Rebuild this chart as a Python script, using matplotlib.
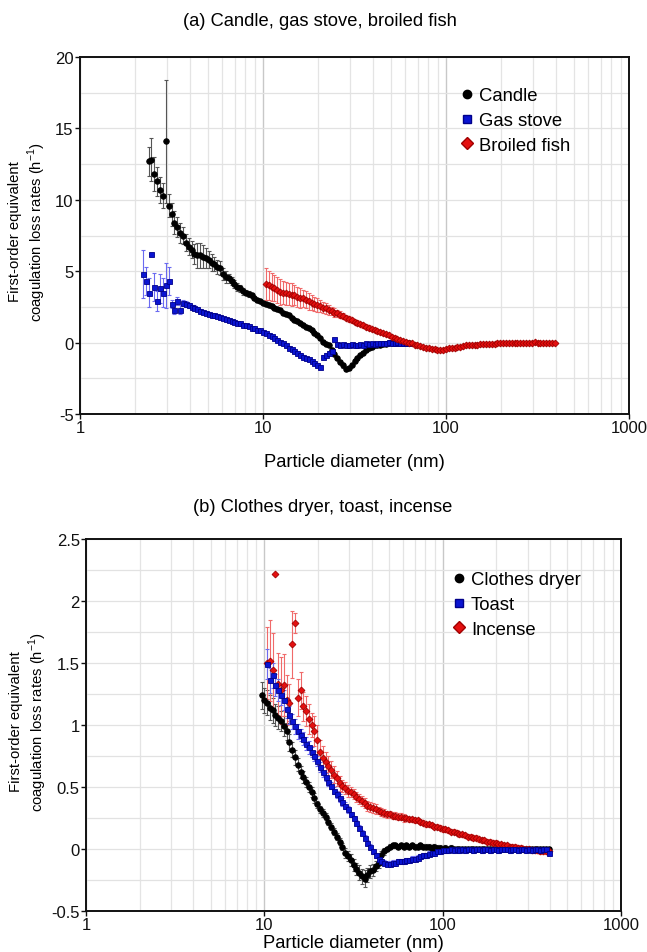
import numpy as np
import matplotlib
matplotlib.use("Agg")
import matplotlib.pyplot as plt
from matplotlib.ticker import FixedLocator, FixedFormatter, NullFormatter, MultipleLocator
from matplotlib.lines import Line2D

plt.rcParams['font.family'] = ['Liberation Sans', 'DejaVu Sans']
plt.rcParams['axes.unicode_minus'] = False

# Instrument channels: 64 size channels per decade, channel j -> d = 10**(j/64) nm
CH_PER_DECADE = 64

# ---------------- Panel (a) ----------------
candle_start = 24
candle = [12.7, 12.8, 11.8, 11.3, 10.7, 10.3, 14.1, 9.6, 9.0, 8.4,
          8.1, 7.7, 7.5, 7.0, 6.7, 6.5, 6.2, 6.1, 6.1, 6.0,
          5.9, 5.8, 5.6, 5.5, 5.3, 5.2, 4.8, 4.6, 4.5, 4.3,
          4.1, 3.9, 3.8, 3.6, 3.5, 3.4, 3.3, 3.1, 3.0, 2.9,
          2.8, 2.7, 2.6, 2.55, 2.45, 2.35, 2.25, 2.1, 2.0, 1.9,
          1.75, 1.6, 1.5, 1.35, 1.25, 1.1, 1.0, 0.85, 0.7, 0.5,
          0.3, 0.05, -0.1, -0.2, -0.5, -0.8, -1.1, -1.35, -1.6, -1.85,
          -1.8, -1.55, -1.3, -1.1, -0.9, -0.7, -0.55, -0.4, -0.3, -0.2,
          -0.2, -0.15, -0.1, -0.1, -0.05, -0.05, 0.0, 0.0, -0.05, 0.0,
          0.0, 0.0]
candle_err = [1.0, 1.5, 1.2, 1.0, 0.9, 0.9, 4.3, 0.8, 0.8, 0.8,
              0.7, 0.7, 0.6, 0.6, 0.6, 0.6, 0.7, 0.9, 0.9, 0.8,
              0.7, 0.6, 0.6, 0.5, 0.5, 0.5, 0.4, 0.4, 0.3, 0.3,
              0.3, 0.3, 0.25, 0.25, 0.2, 0.2, 0.15, 0.15, 0.15, 0.15,
              0.12, 0.12, 0.12, 0.12, 0.12, 0.12, 0.12, 0.12, 0.12, 0.12,
              0.1, 0.1, 0.1, 0.1, 0.1, 0.1, 0.1, 0.1, 0.1, 0.1,
              0.1, 0.1, 0.1, 0.1, 0.12, 0.12, 0.12, 0.15, 0.15, 0.15,
              0.15, 0.12, 0.12, 0.1, 0.1, 0.1, 0.1, 0.08, 0.08, 0.08,
              0.06, 0.06, 0.06, 0.06, 0.06, 0.06, 0.06, 0.06, 0.06, 0.06,
              0.06, 0.06]

gas_start = 22
gas = [4.8, 4.3, 3.5, 6.2, 3.9, 2.9, 3.8, 3.5, 4.0, 4.3,
       2.7, 2.3, 2.9, 2.3, 2.75, 2.7, 2.6, 2.5, 2.45, 2.35,
       2.2, 2.15, 2.1, 2.0, 1.95, 1.9, 1.85, 1.8, 1.7, 1.65,
       1.6, 1.5, 1.45, 1.4, 1.35, 1.25, 1.2, 1.15, 1.05, 1.0,
       0.9, 0.85, 0.75, 0.65, 0.55, 0.45, 0.35, 0.2, 0.05, -0.05,
       -0.2, -0.35, -0.45, -0.6, -0.7, -0.85, -1.0, -1.1, -1.15, -1.3,
       -1.4, -1.55, -1.7, -1.0, -0.85, -0.7, -0.6, 0.25, -0.1, -0.15,
       -0.1, -0.2, -0.15, -0.1, -0.2, -0.15, -0.1, -0.15, -0.05, -0.1,
       0.0, -0.1, -0.05, 0.0, -0.05, 0.0, 0.05, 0.0, 0.0, 0.05,
       0.0, 0.0, 0.0, 0.0]
gas_err = [1.7, 1.0, 1.0, 0.0, 1.0, 0.7, 1.0, 1.0, 1.6, 1.0,
           0.3, 0.3, 0.3, 0.3, 0.2, 0.2, 0.2, 0.15, 0.15, 0.15,
           0.12, 0.12, 0.12, 0.12, 0.12, 0.12, 0.12, 0.12, 0.12, 0.12,
           0.1, 0.1, 0.1, 0.1, 0.1, 0.1, 0.1, 0.1, 0.1, 0.1,
           0.1, 0.1, 0.1, 0.1, 0.1, 0.1, 0.1, 0.1, 0.1, 0.1,
           0.1, 0.1, 0.1, 0.1, 0.1, 0.1, 0.1, 0.1, 0.1, 0.1,
           0.1, 0.1, 0.1, 0.1, 0.1, 0.1, 0.1, 0.0, 0.08, 0.08,
           0.08, 0.08, 0.08, 0.08, 0.08, 0.08, 0.08, 0.08, 0.08, 0.08,
           0.06, 0.06, 0.06, 0.06, 0.06, 0.06, 0.06, 0.06, 0.06, 0.06,
           0.06, 0.06, 0.06, 0.06]

fish_start = 65
fish = [4.1, 4.0, 3.9, 3.8, 3.7, 3.55, 3.5, 3.45, 3.4, 3.35,
        3.3, 3.2, 3.15, 3.1, 3.0, 2.9, 2.8, 2.7, 2.65, 2.55,
        2.45, 2.4, 2.3, 2.2, 2.1, 2.05, 1.95, 1.85, 1.75, 1.65,
        1.55, 1.45, 1.4, 1.3, 1.2, 1.12, 1.05, 0.97, 0.9, 0.82,
        0.75, 0.65, 0.57, 0.5, 0.42, 0.33, 0.25, 0.17, 0.1, 0.05,
        0.0, -0.05, -0.15, -0.2, -0.25, -0.3, -0.35, -0.4, -0.45, -0.45,
        -0.5, -0.5, -0.5, -0.45, -0.4, -0.4, -0.35, -0.3, -0.3, -0.25,
        -0.2, -0.2, -0.15, -0.15, -0.15, -0.1, -0.1, -0.1, -0.1, -0.1,
        -0.1, -0.05, -0.05, -0.05, -0.05, -0.05, -0.03, -0.02, 0.0, 0.0,
        0.0, -0.02, 0.0, 0.0, 0.02, 0.0, 0.0, 0.0, -0.02, 0.0,
        0.0, 0.0]
fish_err = [1.1, 1.0, 1.0, 0.9, 0.9, 0.9, 0.8, 0.8, 0.8, 0.8,
            0.7, 0.7, 0.7, 0.6, 0.6, 0.6, 0.5, 0.5, 0.5, 0.4,
            0.4, 0.4, 0.35, 0.3, 0.3, 0.25, 0.25, 0.2, 0.2, 0.2,
            0.15, 0.15, 0.15, 0.15, 0.15, 0.15, 0.15, 0.15, 0.15, 0.15,
            0.1, 0.1, 0.1, 0.1, 0.1, 0.1, 0.1, 0.1, 0.1, 0.1,
            0.08, 0.08, 0.08, 0.08, 0.08, 0.08, 0.08, 0.08, 0.08, 0.08,
            0.06, 0.06, 0.06, 0.06, 0.06, 0.06, 0.06, 0.06, 0.06, 0.06,
            0.06, 0.06, 0.06, 0.06, 0.06, 0.06, 0.06, 0.06, 0.06, 0.06,
            0.06, 0.06, 0.06, 0.06, 0.06, 0.06, 0.06, 0.06, 0.06, 0.06,
            0.06, 0.06, 0.06, 0.06, 0.06, 0.06, 0.06, 0.06, 0.06, 0.06,
            0.06, 0.06]

# ---------------- Panel (b) ----------------
dryer_start = 63
dryer = [1.24, 1.20, 1.18, 1.14, 1.12, 1.08, 1.06, 1.03, 0.99, 0.95,
         0.86, 0.8, 0.74, 0.68, 0.62, 0.58, 0.54, 0.5, 0.46, 0.41,
         0.36, 0.32, 0.29, 0.26, 0.22, 0.18, 0.14, 0.1, 0.06, 0.02,
         -0.03, -0.06, -0.09, -0.13, -0.16, -0.19, -0.22, -0.24, -0.21, -0.18,
         -0.17, -0.14, -0.11, -0.05, -0.02, 0.0, 0.02, 0.03, 0.03, 0.02,
         0.03, 0.02, 0.03, 0.02, 0.03, 0.02, 0.02, 0.03, 0.02, 0.02,
         0.02, 0.01, 0.02, 0.01, 0.01, 0.0, 0.01, 0.0, 0.01, 0.0,
         0.0, 0.0, 0.0, 0.0, 0.0, 0.0, 0.0, 0.0, 0.0, 0.0,
         0.0, 0.0, 0.0, 0.0, 0.0, 0.0, 0.0, 0.0, 0.0, 0.0,
         0.0, 0.0, 0.0, 0.0, 0.0, 0.0, 0.0, 0.0, 0.0, 0.0,
         0.0, 0.0, 0.0, 0.0]
dryer_err = [0.11, 0.1, 0.1, 0.1, 0.1, 0.09, 0.09, 0.08, 0.08, 0.07,
             0.07, 0.06, 0.06, 0.05, 0.05, 0.05, 0.04, 0.04, 0.04, 0.04,
             0.03, 0.03, 0.03, 0.03, 0.03, 0.03, 0.03, 0.03, 0.03, 0.03,
             0.04, 0.04, 0.05, 0.05, 0.05, 0.06, 0.06, 0.07, 0.06, 0.05,
             0.05, 0.04, 0.04, 0.03, 0.03, 0.02, 0.02, 0.02, 0.02, 0.02,
             0.02, 0.02, 0.02, 0.02, 0.02, 0.02, 0.02, 0.02, 0.02, 0.02,
             0.02, 0.02, 0.02, 0.02, 0.02, 0.02, 0.02, 0.02, 0.02, 0.02,
             0.02, 0.02, 0.02, 0.02, 0.02, 0.02, 0.02, 0.02, 0.02, 0.02,
             0.02, 0.02, 0.02, 0.02, 0.02, 0.02, 0.02, 0.02, 0.02, 0.02,
             0.02, 0.02, 0.02, 0.02, 0.02, 0.02, 0.02, 0.02, 0.02, 0.02,
             0.02, 0.02, 0.02, 0.02]

toast_start = 65
toast = [1.49, 1.36, 1.4, 1.32, 1.28, 1.24, 1.2, 1.13, 1.08, 1.03,
         0.99, 0.95, 0.92, 0.89, 0.85, 0.82, 0.78, 0.75, 0.71, 0.66,
         0.62, 0.58, 0.54, 0.51, 0.47, 0.44, 0.41, 0.38, 0.35, 0.32,
         0.28, 0.25, 0.21, 0.17, 0.13, 0.09, 0.05, 0.02, -0.02, -0.05,
         -0.08, -0.1, -0.11, -0.12, -0.12, -0.11, -0.11, -0.1, -0.1, -0.1,
         -0.09, -0.09, -0.08, -0.08, -0.07, -0.06, -0.05, -0.05, -0.04, -0.03,
         -0.03, -0.02, -0.02, -0.01, -0.01, -0.01, 0.0, -0.01, 0.0, -0.01,
         0.0, -0.01, 0.0, 0.0, -0.01, 0.0, 0.0, -0.01, 0.0, 0.0,
         -0.01, 0.0, 0.0, -0.01, 0.0, 0.0, 0.0, -0.01, 0.0, 0.0,
         -0.01, 0.0, 0.0, -0.01, 0.0, -0.01, 0.0, 0.0, -0.01, 0.0,
         0.0, -0.03]
toast_err = [0.12, 0.1, 0.1, 0.09, 0.09, 0.08, 0.08, 0.07, 0.07, 0.06,
             0.06, 0.06, 0.05, 0.05, 0.05, 0.05, 0.04, 0.04, 0.04, 0.04,
             0.04, 0.03, 0.03, 0.03, 0.03, 0.03, 0.03, 0.03, 0.03, 0.03,
             0.02, 0.02, 0.02, 0.02, 0.02, 0.02, 0.02, 0.02, 0.02, 0.02,
             0.02, 0.02, 0.02, 0.02, 0.02, 0.02, 0.02, 0.02, 0.02, 0.02,
             0.02, 0.02, 0.02, 0.02, 0.02, 0.02, 0.02, 0.02, 0.02, 0.02,
             0.02, 0.02, 0.02, 0.02, 0.02, 0.02, 0.02, 0.02, 0.02, 0.02,
             0.02, 0.02, 0.02, 0.02, 0.02, 0.02, 0.02, 0.02, 0.02, 0.02,
             0.02, 0.02, 0.02, 0.02, 0.02, 0.02, 0.02, 0.02, 0.02, 0.02,
             0.02, 0.02, 0.02, 0.02, 0.02, 0.02, 0.02, 0.02, 0.02, 0.02,
             0.02, 0.02]

incense_start = 65
incense = [1.50, 1.52, 1.44, 2.22, 1.33, 1.28, 1.32, 1.20, 1.18, 1.65,
           1.82, 1.22, 1.28, 1.15, 1.11, 1.05, 1.0, 0.95, 0.88, 0.78,
           0.73, 0.7, 0.67, 0.64, 0.6, 0.57, 0.53, 0.51, 0.49, 0.47,
           0.46, 0.44, 0.42, 0.4, 0.39, 0.37, 0.35, 0.34, 0.33, 0.32,
           0.31, 0.3, 0.29, 0.28, 0.28, 0.27, 0.27, 0.26, 0.26, 0.25,
           0.25, 0.24, 0.24, 0.23, 0.23, 0.22, 0.21, 0.2, 0.2, 0.19,
           0.18, 0.18, 0.17, 0.16, 0.16, 0.15, 0.14, 0.14, 0.13, 0.12,
           0.12, 0.11, 0.1, 0.1, 0.09, 0.09, 0.08, 0.07, 0.07, 0.06,
           0.06, 0.05, 0.05, 0.04, 0.04, 0.03, 0.03, 0.02, 0.02, 0.02,
           0.01, 0.01, 0.0, 0.0, 0.0, -0.01, -0.01, -0.01, -0.02, -0.02,
           -0.02, -0.02]
incense_err = [0.29, 0.33, 0.3, 0.0, 0.25, 0.27, 0.25, 0.2, 0.15, 0.27,
               0.08, 0.15, 0.15, 0.12, 0.12, 0.12, 0.1, 0.12, 0.12, 0.1,
               0.1, 0.08, 0.08, 0.07, 0.07, 0.06, 0.06, 0.05, 0.05, 0.05,
               0.04, 0.04, 0.04, 0.04, 0.04, 0.04, 0.04, 0.04, 0.04, 0.04,
               0.03, 0.03, 0.03, 0.03, 0.03, 0.03, 0.03, 0.03, 0.03, 0.03,
               0.02, 0.02, 0.02, 0.02, 0.02, 0.02, 0.02, 0.02, 0.02, 0.02,
               0.02, 0.02, 0.02, 0.02, 0.02, 0.02, 0.02, 0.02, 0.02, 0.02,
               0.02, 0.02, 0.02, 0.02, 0.02, 0.02, 0.02, 0.02, 0.02, 0.02,
               0.02, 0.02, 0.02, 0.02, 0.02, 0.02, 0.02, 0.02, 0.02, 0.02,
               0.02, 0.02, 0.02, 0.02, 0.02, 0.02, 0.02, 0.02, 0.02, 0.02,
               0.02, 0.02]

x_ticks = [1, 10, 100, 1000]
x_ticklabels = ["1", "10", "100", "1000"]
ya_ticks = [-5, 0, 5, 10, 15, 20]
ya_ticklabels = ["-5", "0", "5", "10", "15", "20"]
yb_ticks = [-0.5, 0, 0.5, 1.0, 1.5, 2.0, 2.5]
yb_ticklabels = ["-0.5", "0", "0.5", "1", "1.5", "2", "2.5"]

W, H = 647, 953
TICK_FS = 12
LABEL_FS = 13.2
YLABEL_FS = 10.7
LEG_FS = 13.3
YLABEL = "First-order equivalent\ncoagulation loss rates (h$^{\\mathregular{-1}}$)"


def diam(start, vals):
    return 10 ** (np.arange(start, start + len(vals)) / CH_PER_DECADE)


STYLES = {
    'k': dict(marker='o', mfc='black', mec='black', ms=4.0, ecolor='#555555'),
    'b': dict(marker='s', mfc='#0a14d2', mec='#00008a', ms=3.6, ecolor='#6a6af0'),
    'r': dict(marker='D', mfc='#e41010', mec='#a00000', ms=3.5, ecolor='#f06a6a'),
}


def draw(ax, start, vals, errs, key):
    assert len(vals) == len(errs)
    st = STYLES[key]
    ax.errorbar(diam(start, vals), vals, yerr=errs, fmt='none',
                ecolor=st['ecolor'], elinewidth=0.8, capsize=1.5, capthick=0.8, zorder=3)
    ax.plot(diam(start, vals), vals, linestyle='none', marker=st['marker'],
            mfc=st['mfc'], mec=st['mec'], ms=st['ms'], mew=0.6, zorder=4)


def style_axes(ax, yt, ytl, ylim, yminor):
    ax.set_xscale('log')
    ax.set_xlim(1, 1000)
    ax.set_ylim(*ylim)
    ax.xaxis.set_major_locator(FixedLocator(x_ticks))
    ax.xaxis.set_major_formatter(FixedFormatter(x_ticklabels))
    minors = [m * 10 ** e for e in range(0, 3) for m in range(2, 10)]
    ax.xaxis.set_minor_locator(FixedLocator(minors))
    ax.xaxis.set_minor_formatter(NullFormatter())
    ax.yaxis.set_major_locator(FixedLocator(yt))
    ax.yaxis.set_major_formatter(FixedFormatter(ytl))
    ax.yaxis.set_minor_locator(MultipleLocator(yminor))
    ax.grid(True, which='major', axis='x', color='#c8c8c8', lw=1.0, zorder=0)
    ax.grid(True, which='minor', axis='x', color='#e4e4e4', lw=0.9, zorder=0)
    ax.grid(True, which='both', axis='y', color='#e2e2e2', lw=0.9, zorder=0)
    ax.tick_params(which='major', direction='out', length=3.5, width=1.0,
                   labelsize=TICK_FS, pad=1.0, colors='#111111')
    ax.tick_params(which='minor', length=0)
    for s in ax.spines.values():
        s.set_linewidth(1.4)
        s.set_color('#111111')
    ax.set_axisbelow(True)


fig = plt.figure(figsize=(W / 100, H / 100), dpi=100)

# panel (a)
axa = fig.add_axes([80 / W, 1 - 415 / H, 549 / W, 357 / H])
style_axes(axa, ya_ticks, ya_ticklabels, (-5, 20), 2.5)
draw(axa, candle_start, candle, candle_err, 'k')
draw(axa, gas_start, gas, gas_err, 'b')
draw(axa, fish_start, fish, fish_err, 'r')
fig.text(320 / W, 1 - 22 / H, "(a) Candle, gas stove, broiled fish",
         ha='center', va='center', fontsize=LABEL_FS)
fig.text(354 / W, 1 - 463 / H, "Particle diameter (nm)",
         ha='center', va='center', fontsize=LABEL_FS)
fig.text(28 / W, 1 - 232 / H, YLABEL, ha='center', va='center', rotation=90,
         fontsize=YLABEL_FS, linespacing=1.2, multialignment='center')

# panel (b)
axb = fig.add_axes([86 / W, 1 - 912 / H, 535 / W, 372 / H])
style_axes(axb, yb_ticks, yb_ticklabels, (-0.5, 2.5), 0.25)
draw(axb, dryer_start, dryer, dryer_err, 'k')
draw(axb, incense_start, incense, incense_err, 'r')
draw(axb, toast_start, toast, toast_err, 'b')
fig.text(323 / W, 1 - 507 / H, "(b) Clothes dryer, toast, incense",
         ha='center', va='center', fontsize=LABEL_FS)
fig.text(353 / W, 1 - 944 / H, "Particle diameter (nm)",
         ha='center', va='center', fontsize=LABEL_FS)
fig.text(29 / W, 1 - 722 / H, YLABEL, ha='center', va='center', rotation=90,
         fontsize=YLABEL_FS, linespacing=1.2, multialignment='center')


def legend(ax, labels, anchor):
    handles = [Line2D([], [], ls='none', marker=STYLES[k]['marker'], mfc=STYLES[k]['mfc'],
                      mec=STYLES[k]['mec'], ms=6) for k in ['k', 'b', 'r']]
    ax.legend(handles, labels, loc='upper left', bbox_to_anchor=anchor,
              bbox_transform=fig.transFigure, frameon=False, fontsize=LEG_FS,
              handlelength=0.4, handletextpad=0.45, labelspacing=0.42, borderpad=0)


legend(axa, ["Candle", "Gas stove", "Broiled fish"], (454 / W, 1 - 79 / H))
legend(axb, ["Clothes dryer", "Toast", "Incense"], (446 / W, 1 - 563 / H))

fig.savefig("out.png", dpi=100)
